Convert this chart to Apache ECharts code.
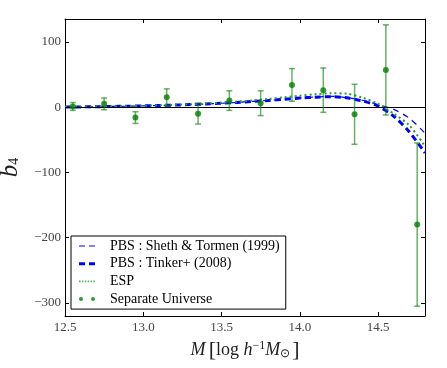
<!DOCTYPE html>
<html>
<head>
<meta charset="utf-8">
<script src="https://cdn.jsdelivr.net/npm/echarts@6/dist/echarts.min.js"></script>
<style>
  html, body { margin: 0; padding: 0; background: #fff; }
  #chart { width: 447px; height: 368px; }
</style>
</head>
<body>
<div id="chart"></div>
<script>
  // model curves, sampled along halo mass
  var massGrid = [12.5, 12.6, 12.7, 12.8, 12.9, 13.0, 13.1, 13.2, 13.3, 13.4, 13.5, 13.6,
    13.7, 13.8, 13.9, 14.0, 14.1, 14.2, 14.3, 14.4, 14.5, 14.6, 14.7, 14.8];
  var shethTormen = [0, 0.3, 0.6, 1.0, 1.4, 1.9, 2.5, 3.1, 3.9, 4.8, 5.9, 7.2,
    8.7, 10.3, 12.1, 13.9, 15.5, 16.5, 14.5, 10.5, 4, -3.5, -17, -40];
  var tinker = [0, 0.3, 0.6, 1.0, 1.4, 1.9, 2.5, 3.1, 3.9, 4.8, 5.9, 7.2,
    8.7, 10.3, 12.1, 13.8, 15.3, 16.0, 14.2, 9.5, 1.5, -14, -38, -70];
  var esp = [0, 0.3, 0.7, 1.1, 1.6, 2.1, 2.8, 3.5, 4.4, 5.5, 6.8, 8.4,
    10.3, 12.5, 15.0, 17.5, 19.8, 21.2, 20.5, 14.5, 5, -10, -28, -60];

  // separate universe measurements
  var suMass = [12.55, 12.75, 12.95, 13.15, 13.35, 13.55, 13.75, 13.95, 14.15, 14.35, 14.55, 14.75];
  var suBias = [1, 5, -16, 15, -10, 10, 6, 34, 26, -11, 57, -180];
  var suErr = [6, 9, 9, 13, 16, 15, 19, 25, 34, 46, 69, 125];

  var xTicks = [12.5, 13.0, 13.5, 14.0, 14.5];
  var yTicks = [-300, -200, -100, 0, 100];

  var serif = 'Liberation Serif';

  function pairs(xs, ys) {
    var res = [];
    for (var i = 0; i < xs.length; i++) {
      res.push([xs[i], ys[i]]);
    }
    return res;
  }

  var errData = [];
  for (var i = 0; i < suMass.length; i++) {
    errData.push([suMass[i], suBias[i], suErr[i]]);
  }

  function fmtY(v) {
    return v < 0 ? '\u2212' + Math.abs(v) : String(v);
  }

  // legend glyphs (matplotlib style: line samples, two markers)
  var iconThin = 'path://M0,0h6v1h-6zM10,0h6v1h-6z';
  var iconThick = 'path://M0,0h6v3h-6zM10,0h6v3h-6z';
  var iconDots = 'path://M0,0h1.6v1.6h-1.6zM2.9,0h1.6v1.6h-1.6zM5.8,0h1.6v1.6h-1.6zM8.7,0h1.6v1.6h-1.6zM11.6,0h1.6v1.6h-1.6zM14.5,0h1.6v1.6h-1.6z';
  var iconTwoDots = 'path://M0,2a2,2 0 1,0 4,0a2,2 0 1,0 -4,0M12,2a2,2 0 1,0 4,0a2,2 0 1,0 -4,0';

  var chart = echarts.init(document.getElementById('chart'), null, { renderer: 'canvas' });

  var frameAxis = {
    type: 'value',
    axisLine: { show: true, onZero: false, lineStyle: { color: '#000', width: 1 } },
    splitLine: { show: false }
  };

  var option = {
    animation: false,
    backgroundColor: '#fff',
    grid: { left: 65, right: 22, top: 19, bottom: 52, containLabel: false, outerBoundsMode: 'none' },
    xAxis: [
      Object.assign({}, frameAxis, {
        min: 12.5, max: 14.8,
        position: 'bottom',
        axisTick: { inside: true, length: 4, customValues: xTicks, lineStyle: { color: '#000' } },
        axisLabel: {
          customValues: xTicks, margin: 5, color: '#444',
          fontFamily: serif, fontSize: 13,
          formatter: function (v) { return v.toFixed(1); }
        },
        name: '{i|M} {b|[}{n|log }{i|h}{sup|\u22121}{i|M}{sub|\u2299}{b|]}',
        nameLocation: 'middle',
        nameGap: 21,
        nameTextStyle: {
          rich: {
            i: { fontFamily: serif, fontStyle: 'italic', fontSize: 18, color: '#222' },
            n: { fontFamily: serif, fontSize: 18, color: '#222' },
            b: { fontFamily: serif, fontSize: 22, color: '#222' },
            sup: { fontFamily: serif, fontSize: 12, color: '#222', padding: [0, 0, 8, 0] },
            sub: { fontFamily: serif, fontSize: 12, color: '#222', padding: [8, 2, 0, 0] }
          }
        }
      }),
      Object.assign({}, frameAxis, {
        min: 12.5, max: 14.8,
        position: 'top',
        axisTick: { inside: true, length: 4, customValues: xTicks, lineStyle: { color: '#000' } },
        axisLabel: { show: false }
      })
    ],
    yAxis: [
      Object.assign({}, frameAxis, {
        min: -320, max: 135,
        position: 'left',
        axisTick: { inside: true, length: 4, customValues: yTicks, lineStyle: { color: '#000' } },
        axisLabel: {
          customValues: yTicks, margin: 4, color: '#444',
          fontFamily: serif, fontSize: 13,
          formatter: fmtY
        },
        name: '{b|b}{s|4}',
        nameLocation: 'middle',
        nameGap: 31,
        nameRotate: 90,
        nameTextStyle: {
          rich: {
            b: { fontFamily: serif, fontStyle: 'italic', fontSize: 25, color: '#222' },
            s: { fontFamily: serif, fontSize: 14, color: '#222', padding: [7, 0, 0, 0] }
          }
        }
      }),
      Object.assign({}, frameAxis, {
        min: -320, max: 135,
        position: 'right',
        axisTick: { inside: true, length: 4, customValues: yTicks, lineStyle: { color: '#000' } },
        axisLabel: { show: false }
      })
    ],
    legend: {
      orient: 'vertical',
      left: 71, top: 236,
      padding: [3, 6, 3, 8],
      itemGap: 3.7,
      itemWidth: 16, itemHeight: 10,
      borderColor: '#000', borderWidth: 1,
      backgroundColor: '#fff',
      textStyle: { fontFamily: serif, fontSize: 14, color: '#000', lineHeight: 14, padding: [0, 0, 0, 10] },
      data: [
        { name: 'PBS : Sheth & Tormen (1999)', icon: iconThin },
        { name: 'PBS : Tinker+ (2008)', icon: iconThick },
        { name: 'ESP', icon: iconDots, itemStyle: { color: '#5cb85c' } },
        { name: 'Separate Universe', icon: iconTwoDots }
      ]
    },
    series: [
      {
        name: 'PBS : Sheth & Tormen (1999)',
        type: 'line',
        data: pairs(massGrid, shethTormen),
        smooth: 0.3,
        symbol: 'none',
        color: '#0000ff',
        lineStyle: { color: '#0000ff', width: 1.2, type: [6, 5] },
        z: 3,
        markLine: {
          silent: true,
          symbol: 'none',
          label: { show: false },
          lineStyle: { color: '#000', width: 1, type: 'solid' },
          data: [{ yAxis: 0 }]
        }
      },
      {
        name: 'PBS : Tinker+ (2008)',
        type: 'line',
        data: pairs(massGrid, tinker),
        smooth: 0.3,
        symbol: 'none',
        color: '#0000ff',
        lineStyle: { color: '#0000ff', width: 3, type: [6, 4] },
        z: 4
      },
      {
        name: 'ESP',
        type: 'line',
        data: pairs(massGrid, esp),
        smooth: 0.3,
        symbol: 'none',
        color: '#2e9a2e',
        lineStyle: { color: '#2e9a2e', width: 2, type: [2, 3] },
        z: 4
      },
      {
        name: 'SU errors',
        type: 'custom',
        data: errData,
        z: 5,
        renderItem: function (params, api) {
          var x = api.value(0), y = api.value(1), e = api.value(2);
          var top = api.coord([x, y + e]);
          var bot = api.coord([x, y - e]);
          var cap = 3;
          var st = { stroke: 'rgba(0,128,0,0.6)', lineWidth: 1.5 };
          return {
            type: 'group',
            children: [
              { type: 'line', shape: { x1: top[0], y1: top[1], x2: bot[0], y2: bot[1] }, style: st },
              { type: 'line', shape: { x1: top[0] - cap, y1: top[1], x2: top[0] + cap, y2: top[1] }, style: st },
              { type: 'line', shape: { x1: bot[0] - cap, y1: bot[1], x2: bot[0] + cap, y2: bot[1] }, style: st }
            ]
          };
        }
      },
      {
        name: 'Separate Universe',
        type: 'scatter',
        data: pairs(suMass, suBias),
        symbol: 'circle',
        symbolSize: 6,
        color: '#008000',
        itemStyle: { color: '#008000' },
        z: 6
      }
    ]
  };

  chart.setOption(option);
</script>
</body>
</html>
